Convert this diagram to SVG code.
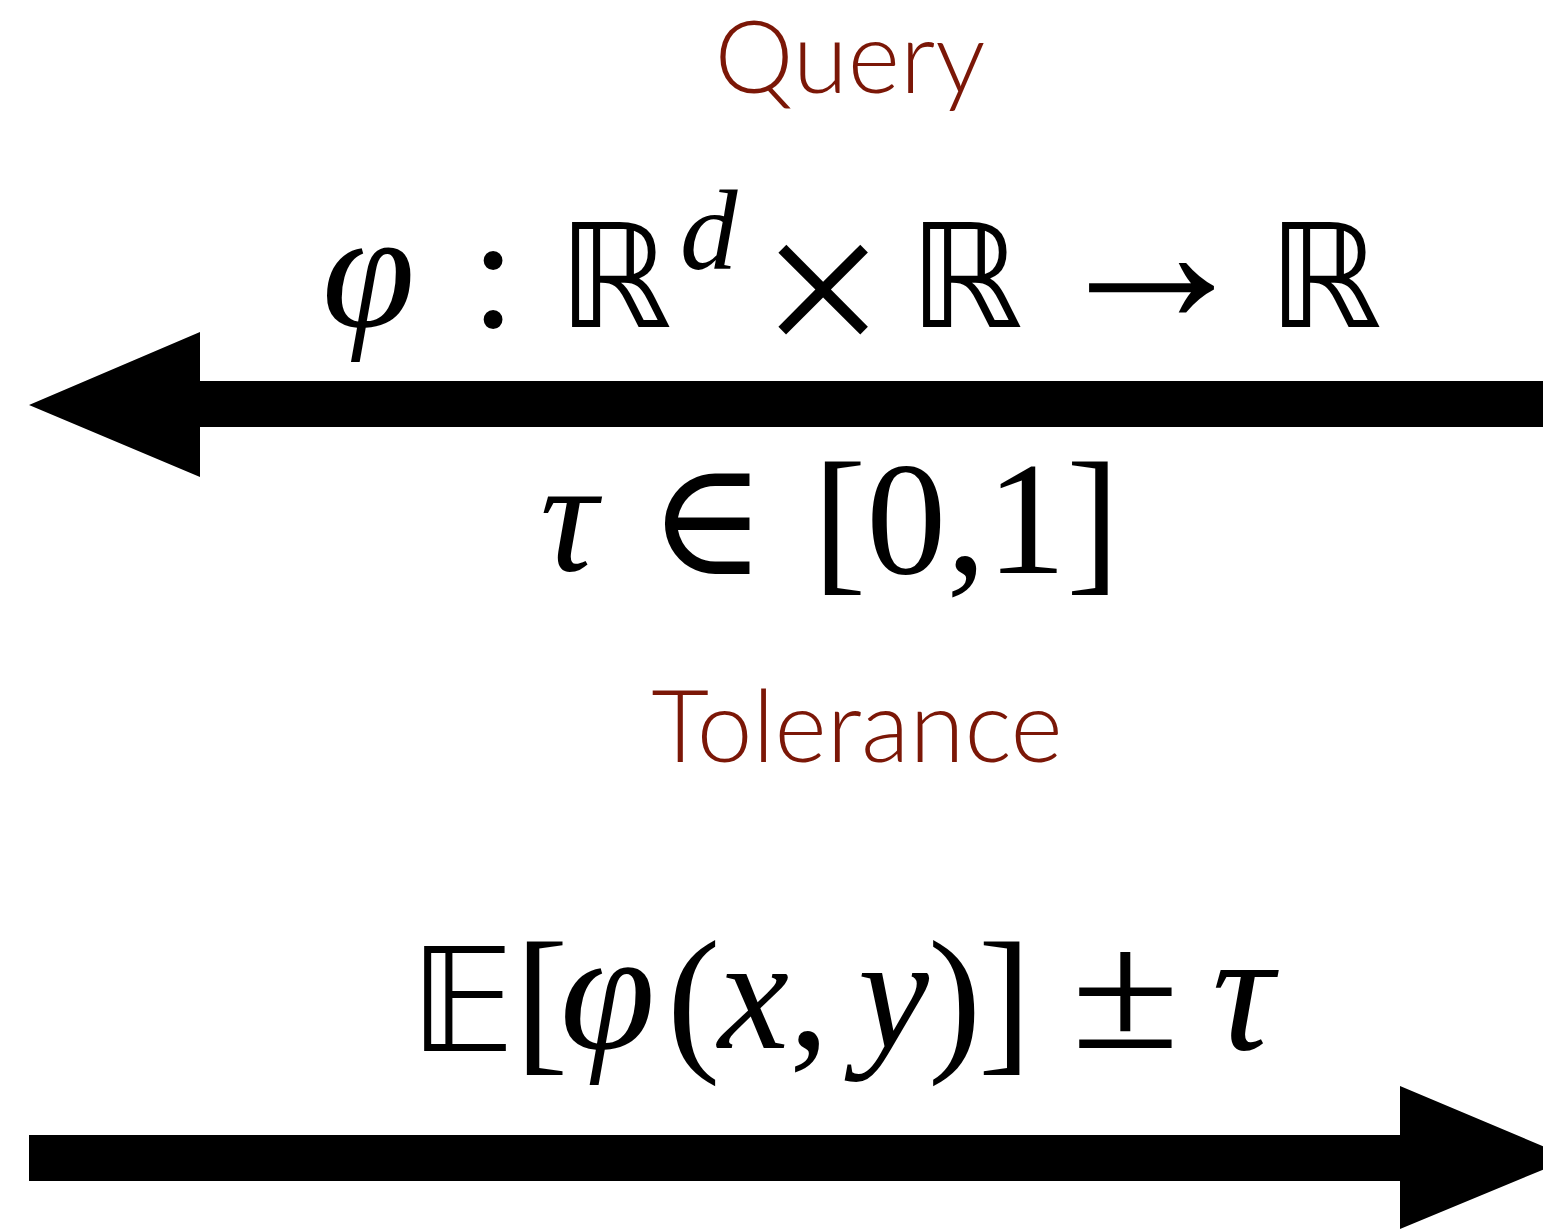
<svg xmlns="http://www.w3.org/2000/svg" width="1543" height="1229" viewBox="0 0 1543 1229">
<style>
.lbl{font-family:Lato,"Open Sans","Liberation Sans",sans-serif;font-weight:300;fill:#7b1707;font-size:100px}
.m{font-family:"Liberation Serif","DejaVu Serif",serif;font-size:160px;fill:#000}
.mi{font-family:"Liberation Serif","DejaVu Serif",serif;font-style:italic;font-size:160px;fill:#000}
.ds{font-family:"DejaVu Sans","DejaVu Serif",sans-serif;font-size:144px;fill:#000}
</style>
<rect width="1543" height="1229" fill="#fff"/>
<g id="connectors">
<path d="M1543,381 L200,381 L200,332 L29,405 L200,477 L200,427 L1543,427 Z" fill="#000"/>
<path d="M29,1135 L1400,1135 L1400,1086 L1571,1158 L1400,1229 L1400,1181 L29,1181 Z" fill="#000"/>
</g>
<g id="query">
<text class="lbl" x="850" y="93" text-anchor="middle">Query</text>
</g>
<g id="signature">
<text class="mi" x="322" y="326" style="font-size:168px">φ</text>
<text class="m" x="471" y="327">:</text>
<text class="ds" x="558" y="327">ℝ</text>
<text class="mi" x="680" y="269" style="font-size:115px">d</text>
<text class="m" x="761" y="363" style="font-size:220px">×</text>
<text class="ds" x="909" y="327">ℝ</text>
<text class="m" x="1046" y="323" style="font-size:211px">→</text>
<text class="ds" x="1268" y="327">ℝ</text>
</g>
<g id="tolerance-value">
<text class="mi" x="540" y="570">τ</text>
<text class="m" x="648" y="574">∈</text>
<text class="m" x="813" y="573">[0,1]</text>
</g>
<g id="tolerance">
<text class="lbl" x="857" y="762" text-anchor="middle">Tolerance</text>
</g>
<g id="answer">
<text class="ds" x="410" y="1051">𝔼</text>
<text class="m" x="515" y="1053">[</text>
<text class="mi" x="560" y="1048" style="font-size:172px">φ</text>
<text class="m" x="667" y="1052">(</text>
<text class="mi" x="718" y="1048">x</text>
<text class="m" x="789" y="1048">,</text>
<text class="mi" x="858" y="1048">y</text>
<text class="m" x="928" y="1052">)</text>
<text class="m" x="978" y="1053">]</text>
<text class="m" transform="translate(1071,1048) scale(1.24,1.06)">±</text>
<text class="mi" x="1212" y="1049" style="font-size:172px">τ</text>
</g>
</svg>
